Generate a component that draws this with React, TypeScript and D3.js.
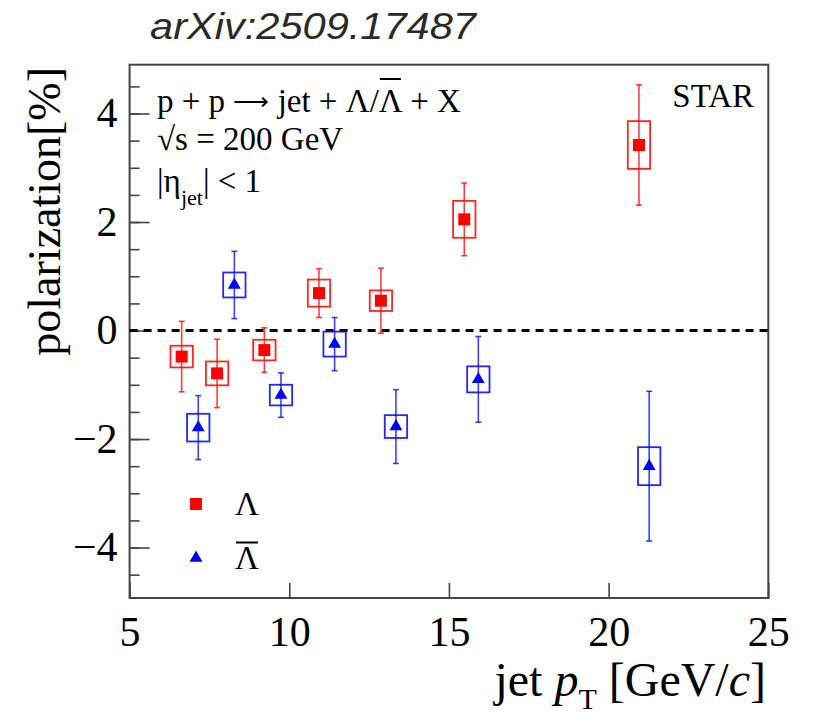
import React, { useEffect, useRef } from 'react';
import * as d3 from 'd3';

// Lambda
const lamPt = [6.63, 7.74, 9.22, 10.93, 12.87, 15.48, 20.95];
const lamPol = [-0.48, -0.79, -0.36, 0.69, 0.55, 2.05, 3.42];
const lamStat = [0.65, 0.63, 0.41, 0.45, 0.6, 0.67, 1.11];
const lamSys = [0.2, 0.22, 0.19, 0.25, 0.19, 0.34, 0.44];

// anti-Lambda
const alamPt = [7.15, 8.28, 9.74, 11.42, 13.34, 15.92, 21.27];
const alamPol = [-1.79, 0.84, -1.19, -0.25, -1.77, -0.9, -2.5];
const alamStat = [0.59, 0.62, 0.41, 0.49, 0.68, 0.79, 1.38];
const alamSys = [0.255, 0.23, 0.19, 0.23, 0.21, 0.24, 0.35];

const xTicks = [5, 10, 15, 20, 25];
const yMajor = [-4, -2, 0, 2, 4];
const yMinor = d3.range(-4.5, 4.51, 0.5);

const App = () => {
  const ref = useRef<SVGSVGElement>(null);

  useEffect(() => {
    document.body.style.margin = '0';
    const svg = d3.select(ref.current);
    svg.selectAll('*').remove();
    const serif = '"Liberation Serif", "Times New Roman", serif';

    const left = 129.6, right = 768.3, top = 64.7, bottom = 598;
    const x = d3.scaleLinear().domain([5, 25]).range([left, right]);
    const y = d3.scaleLinear().domain([-4.93, 4.9]).range([bottom, top]);

    svg.append('text')
      .attr('x', 150).attr('y', 39)
      .attr('font-family', '"Liberation Sans", Arial, sans-serif')
      .attr('font-style', 'italic')
      .attr('font-size', 37)
      .attr('fill', '#2a2a2a')
      .attr('textLength', 326)
      .attr('lengthAdjust', 'spacingAndGlyphs')
      .text('arXiv:2509.17487');

    // axes
    const xAxis = svg.append('g')
      .attr('transform', `translate(0,${bottom})`)
      .call(d3.axisBottom(x).tickValues(xTicks).tickSize(-15).tickPadding(18).tickFormat(d3.format('d')));
    const yMinorAxis = svg.append('g')
      .attr('transform', `translate(${left},0)`)
      .call(d3.axisLeft(y).tickValues(yMinor).tickSize(-10).tickFormat(() => ''));
    const yAxis = svg.append('g')
      .attr('transform', `translate(${left},0)`)
      .call(d3.axisLeft(y).tickValues(yMajor).tickSize(-20).tickPadding(12).tickFormat(d3.format('d')));
    [xAxis, yMinorAxis, yAxis].forEach(a => {
      a.select('.domain').remove();
      a.selectAll('line').attr('stroke', '#444').attr('stroke-width', 1.6);
      a.selectAll('text').attr('font-family', serif).attr('font-size', 42).attr('fill', '#000');
    });

    svg.append('rect')
      .attr('x', left).attr('y', top)
      .attr('width', right - left).attr('height', bottom - top)
      .attr('fill', 'none').attr('stroke', '#444').attr('stroke-width', 2);

    svg.append('line')
      .attr('x1', x(5)).attr('x2', x(25))
      .attr('y1', y(0)).attr('y2', y(0))
      .attr('stroke', '#000').attr('stroke-width', 3)
      .attr('stroke-dasharray', '8,6');

    const drawSeries = (pt: number[], pol: number[], stat: number[], sys: number[], color: string, sym: d3.SymbolType, size: number) => {
      const g = svg.append('g');
      pt.forEach((p, i) => {
        const cx = x(p), cy = y(pol[i]);
        g.append('rect')
          .attr('x', x(p - 0.35)).attr('width', x(p + 0.35) - x(p - 0.35))
          .attr('y', y(pol[i] + sys[i])).attr('height', y(pol[i] - sys[i]) - y(pol[i] + sys[i]))
          .attr('fill', 'none').attr('stroke', color).attr('stroke-width', 1.8).attr('stroke-opacity', 0.85);
        const y1 = y(pol[i] + stat[i]), y2 = y(pol[i] - stat[i]);
        g.append('line').attr('x1', cx).attr('x2', cx).attr('y1', y1).attr('y2', y2)
          .attr('stroke', color).attr('stroke-width', 1.6).attr('stroke-opacity', 0.75);
        [y1, y2].forEach(yy => {
          g.append('line').attr('x1', cx - 3).attr('x2', cx + 3).attr('y1', yy).attr('y2', yy)
            .attr('stroke', color).attr('stroke-width', 1.6).attr('stroke-opacity', 0.75);
        });
        g.append('path')
          .attr('d', d3.symbol().type(sym).size(size)())
          .attr('transform', `translate(${cx},${cy})`)
          .attr('fill', color);
      });
    };
    drawSeries(lamPt, lamPol, lamStat, lamSys, '#ff0000', d3.symbolSquare, 144);
    drawSeries(alamPt, alamPol, alamStat, alamSys, '#0000ff', d3.symbolTriangle, 72);

    // text in the frame
    const line1 = svg.append('text').attr('x', 157).attr('y', 111.7)
      .attr('font-family', serif).attr('font-size', 33);
    line1.append('tspan').text('p + p ');
    line1.append('tspan').attr('font-size', 25).attr('dy', -2).text('\u27F6');
    line1.append('tspan').attr('dy', 2).text(' jet + \u039B/');
    line1.append('tspan').attr('class', 'bar').text('\u039B');
    line1.append('tspan').text(' + X');
    const node1 = line1.node() as SVGTextElement;
    const full = node1.textContent || '';
    const ext = node1.getExtentOfChar(full.lastIndexOf('\u039B'));
    svg.append('line').attr('x1', ext.x + 1).attr('x2', ext.x + ext.width - 1)
      .attr('y1', 79).attr('y2', 79).attr('stroke', '#000').attr('stroke-width', 2);

    svg.append('text').attr('x', 157).attr('y', 150)
      .attr('font-family', serif).attr('font-size', 33).text('\u221As = 200 GeV');

    const line3 = svg.append('text').attr('x', 157).attr('y', 191.7)
      .attr('font-family', serif).attr('font-size', 33);
    line3.append('tspan').text('|\u03B7');
    line3.append('tspan').attr('font-size', 22).attr('dy', 13).text('jet');
    line3.append('tspan').attr('dy', -13).text('| < 1');

    svg.append('text').attr('x', 754).attr('y', 106.7).attr('text-anchor', 'end')
      .attr('font-family', serif).attr('font-size', 33).text('STAR');

    // legend
    svg.append('path').attr('d', d3.symbol().type(d3.symbolSquare).size(144)())
      .attr('transform', 'translate(196,504)').attr('fill', '#ff0000');
    svg.append('path').attr('d', d3.symbol().type(d3.symbolTriangle).size(72)())
      .attr('transform', 'translate(196,558)').attr('fill', '#0000ff');
    svg.append('text').attr('x', 235).attr('y', 515)
      .attr('font-family', serif).attr('font-size', 33).text('\u039B');
    const lg2 = svg.append('text').attr('x', 235).attr('y', 569)
      .attr('font-family', serif).attr('font-size', 33).text('\u039B');
    const ext2 = (lg2.node() as SVGTextElement).getExtentOfChar(0);
    svg.append('line').attr('x1', ext2.x + 1).attr('x2', ext2.x + ext2.width - 1)
      .attr('y1', 542.5).attr('y2', 542.5).attr('stroke', '#000').attr('stroke-width', 2);

    // axis titles
    const xt = svg.append('text').attr('x', 766).attr('y', 696).attr('text-anchor', 'end')
      .attr('font-family', serif).attr('font-size', 48);
    xt.append('tspan').text('jet ');
    xt.append('tspan').attr('font-style', 'italic').text('p');
    xt.append('tspan').attr('font-size', 30).attr('dy', 13).text('T');
    xt.append('tspan').attr('dy', -13).text(' [GeV/');
    xt.append('tspan').attr('font-style', 'italic').text('c');
    xt.append('tspan').text(']');

    svg.append('text')
      .attr('transform', 'translate(60,67) rotate(-90)')
      .attr('text-anchor', 'end')
      .attr('font-family', serif).attr('font-size', 46)
      .text('polarization[%]');
  }, []);

  return <svg ref={ref} width={820} height={715} style={{ display: 'block', background: '#fff' }} />;
};

export default App;
